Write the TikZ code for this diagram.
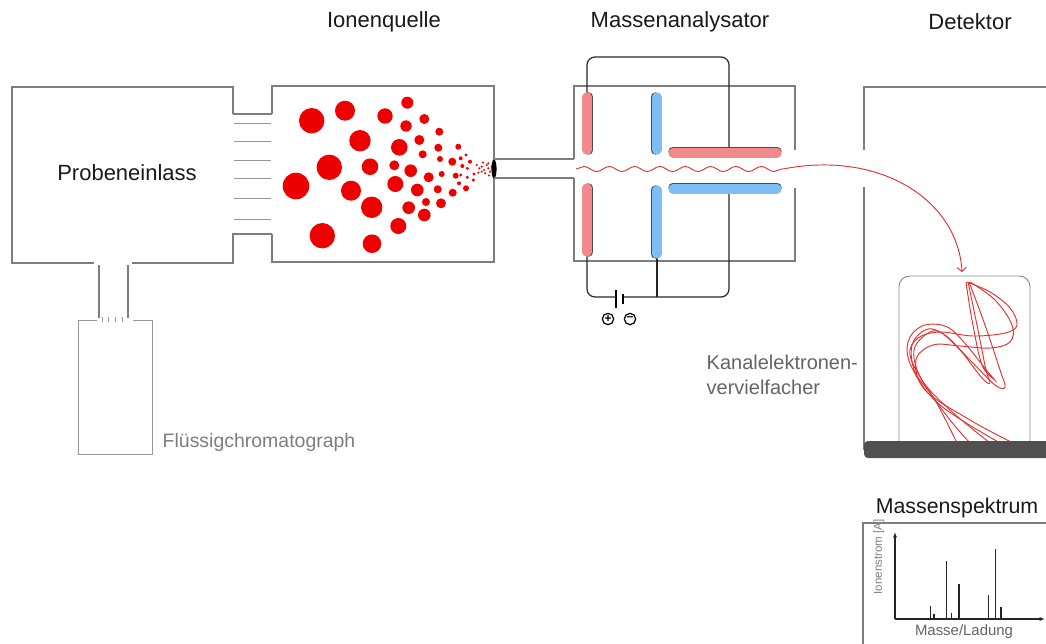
\documentclass[tikz,border=0pt]{standalone}
\usepackage{fontspec}
\setmainfont{Liberation Sans}
\usetikzlibrary{arrows.meta,decorations.pathmorphing}
\definecolor{IonRed}{RGB}{238,0,0}
\definecolor{PlateRed}{RGB}{244,137,140}
\definecolor{PlateBlue}{RGB}{125,190,245}
\definecolor{WallGray}{RGB}{125,125,125}
\definecolor{LabelGray}{RGB}{100,100,100}
\definecolor{BarGray}{RGB}{80,80,80}
\definecolor{TrackRed}{RGB}{225,50,50}

\begin{document}
\begin{tikzpicture}[x=0.75pt,y=-0.75pt,
    wall/.style={draw=WallGray,line width=1pt},
    thinwall/.style={draw=WallGray!80,line width=0.7pt},
    wire/.style={draw=black!85,line width=0.9pt,rounded corners=6pt},
    plate/.style={line width=7pt,line cap=round},
    track/.style={TrackRed,line width=0.7pt},
    pole/.style={circle,draw=black,line width=0.9pt,inner sep=0pt,minimum size=8.5pt,
                 font=\fontsize{9}{9}\selectfont\bfseries},
    title/.style={font=\fontsize{16.5}{20}\selectfont,text=black!90},
    label/.style={font=\fontsize{15}{19}\selectfont,text=LabelGray,align=left},
    peak/.style={draw=black!85,line width=1.1pt}]

  \useasboundingbox (0,0) rectangle (1046,643);

  % titles
  \node[title] (tquelle) at (384,22) {Ionenquelle};
  \node[title] (tanalys) at (680,22) {Massenanalysator};
  \node[title] (tdetekt) at (970,22) {Detektor};

  % sample inlet and liquid chromatograph
  \draw[wall] (233,114) -- (233,87) -- (12,87) -- (12,263) -- (94,263);
  \draw[wall] (132,263) -- (233,263) -- (233,234) -- (272,234);
  \draw[wall] (233,114) -- (272,114);
  \foreach \y in {123,141,160,178,198,219}
    \draw[thinwall] (234,\y) -- (271,\y);
  \node[title] (einlass) at (127,173) {Probeneinlass};

  \draw[wall] (99,265) -- (99,318);
  \draw[wall] (128,265) -- (128,318);
  \draw[thinwall] (97,320) -- (78,320) -- (78,454) -- (152,454) -- (152,320) -- (133,320);
  \foreach \x in {102,108,115,122}
    \draw[thinwall] (\x,317) -- (\x,322);
  \node[label,text=WallGray,anchor=west,font=\fontsize{14.6}{18}\selectfont] (lc) at (158,442) {Flüssigchromatograph};

  % ion source
  \draw[wall] (272,114) -- (272,86) -- (494,86) -- (494,262) -- (272,262) -- (272,234);
  \foreach \x/\y/\r in {311.7/120.7/12.7, 345/110.7/10, 360/140.7/10.7, 385/116/7.7,
      407.3/102.7/6, 406/126/5.7, 424.3/119/5, 329.3/167.3/12.7, 296/186/13.3,
      370/166.7/8.3, 399.3/147.3/8.3, 419.3/140/5, 439.3/131.7/4, 351/190.7/10,
      394.3/165.3/5, 410.7/170.7/6.3, 422.7/154.3/4, 438.3/147.7/4, 395.3/184/8,
      371.7/207.3/10.7, 428.7/177.3/5, 417.3/190/6.3, 408.7/207.7/6.3, 398.3/226/8,
      424.3/215/6.3, 426/202/4, 441/203.3/5, 437.7/189.3/4, 322.3/235.7/12.7,
      372/243.7/9.3, 440/159/3, 441.7/174/3, 452.3/161.7/4, 455.7/175.7/3,
      452.7/192.7/4, 458.3/146.7/3, 460.7/158.3/2, 466/155/1.7, 470/161.7/2,
      462.3/166/2, 467.3/168.3/1.7, 460.7/175/1.7, 467.3/177.3/1.7, 474/174/1.7,
      466/188.3/3, 459/183.3/2, 473.3/180/1.7}
    \fill[IonRed] (\x,\y) circle (\r);
  \foreach \x/\y in {476.7/165, 479.3/168.3, 481.7/166.7, 484/170, 486.7/165,
      488.3/168.3, 485/173.3, 481.7/171.7, 490/171.7, 491.7/166.7, 478.3/172.7,
      488.3/163.3, 483/162.5, 489/175.5}
    \fill[IonRed] (\x,\y) circle (1.2);
  \fill[black] (494,169) ellipse [x radius=2.6, y radius=9.5];

  % mass analyser
  \draw[wall] (494,159) -- (574,159);
  \draw[wall] (494,178) -- (574,178);
  \draw[wall] (574,159) -- (574,86) -- (795,86) -- (795,150);
  \draw[wall] (795,188) -- (795,261) -- (574,261) -- (574,178);

  \draw[wire] (587,105) -- (587,57) -- (729,57) -- (729,153);
  \draw[wire] (587,245) -- (587,297) -- (616,297);
  \draw[wire] (623,297) -- (729,297) -- (729,189);
  \draw[wire,rounded corners=0pt] (657,250) -- (657,297);
  \draw[black,line width=1.5pt] (616,290) -- (616,308);
  \draw[black,line width=1.5pt] (623,294) -- (623,304);
  \node[pole] (plus) at (608,319) {+};
  \node[pole] (minus) at (630,319) {\raisebox{0.3pt}{--}};

  \foreach \xa/\ya/\xb/\yb/\dx/\dy/\col in {
      587/97/587/150/1.8/0/PlateRed, 587/188/587/252/1.8/0/PlateRed,
      657/97/657/150/-1.8/0/PlateBlue, 657/190/657/254/-1.8/0/PlateBlue,
      673/153/777/153/0/-1.8/PlateRed, 673/189/777/189/0/-1.8/PlateBlue} {
    \draw[plate,black!70] (\xa+\dx,\ya+\dy) -- (\xb+\dx,\yb+\dy);
    \draw[plate,\col] (\xa,\ya) -- (\xb,\yb);
  }

  \draw[track,decorate,decoration={snake,amplitude=1.9pt,segment length=19pt}]
    (576,169) -- (783,169);
  \draw[track,-{Straight Barb[length=3pt,width=7pt]}]
    (783,169) .. controls (880,150) and (958,200) .. (962,272);

  % detector
  \draw[wall] (1046,87) -- (864,87) -- (864,150);
  \draw[wall] (864,187) -- (864,450);
  \draw[thinwall,draw=WallGray!90,rounded corners=8pt]
    (899,442) -- (899,276) -- (1030,276) -- (1030,442);
  \foreach \pts in {
      {(968,282) (978,330) (986,370) (990,383) (982,378) (960,350) (940,332) (925,330) (912,345) (915,372) (935,400) (957,443)},
      {(969,282) (985,325) (1000,370) (1005,387) (995,385) (970,360) (945,335) (930,332) (914,350) (922,380) (950,410) (990,443)},
      {(967,282) (990,292) (1010,308) (1017,325) (1005,333) (973,336) (940,332) (918,338) (910,355) (925,385) (950,420) (970,443)},
      {(970,282) (995,300) (1012,325) (1010,342) (990,348) (960,346) (933,345) (916,360) (925,390) (970,420) (1013,443)},
      {(966,282) (972,320) (982,365) (995,380) (988,372) (962,340) (945,326) (922,326) (908,342) (912,368) (940,405) (1000,443)}}
    \draw[track] plot[smooth,tension=0.6] coordinates \pts;
  \fill[BarGray,rounded corners=3pt] (864,441) rectangle (1060,458);
  \node[label,anchor=west] (cem) at (702,375) {Kanalelektronen-\\vervielfacher};

  % mass spectrum
  \node[title,font=\fontsize{16}{20}\selectfont] (tspek) at (957,508) {Massenspektrum};
  \draw[wall] (863,650) -- (863,523) -- (1050,523);
  \draw[black!85,line width=0.8pt,-{Latex[length=4pt,width=3pt]}] (895,619) -- (895,532);
  \draw[black!85,line width=0.8pt,-{Latex[length=4pt,width=3pt]}] (895,619) -- (1045,619);
  \foreach \x/\y in {930.3/605.7, 934/614, 946.7/561, 951.7/612.7, 959/584.3,
      988.3/595.3, 995.3/548.7, 1001/607}
    \draw[peak] (\x,619) -- (\x,\y);
  \node[text=WallGray,rotate=90,font=\fontsize{8.6}{10}\selectfont] (yl) at (879,557) {Ionenstrom [A]};
  \node[text=LabelGray,font=\fontsize{11.2}{13}\selectfont] (xl) at (964,632) {Masse/Ladung};
\end{tikzpicture}
\end{document}
